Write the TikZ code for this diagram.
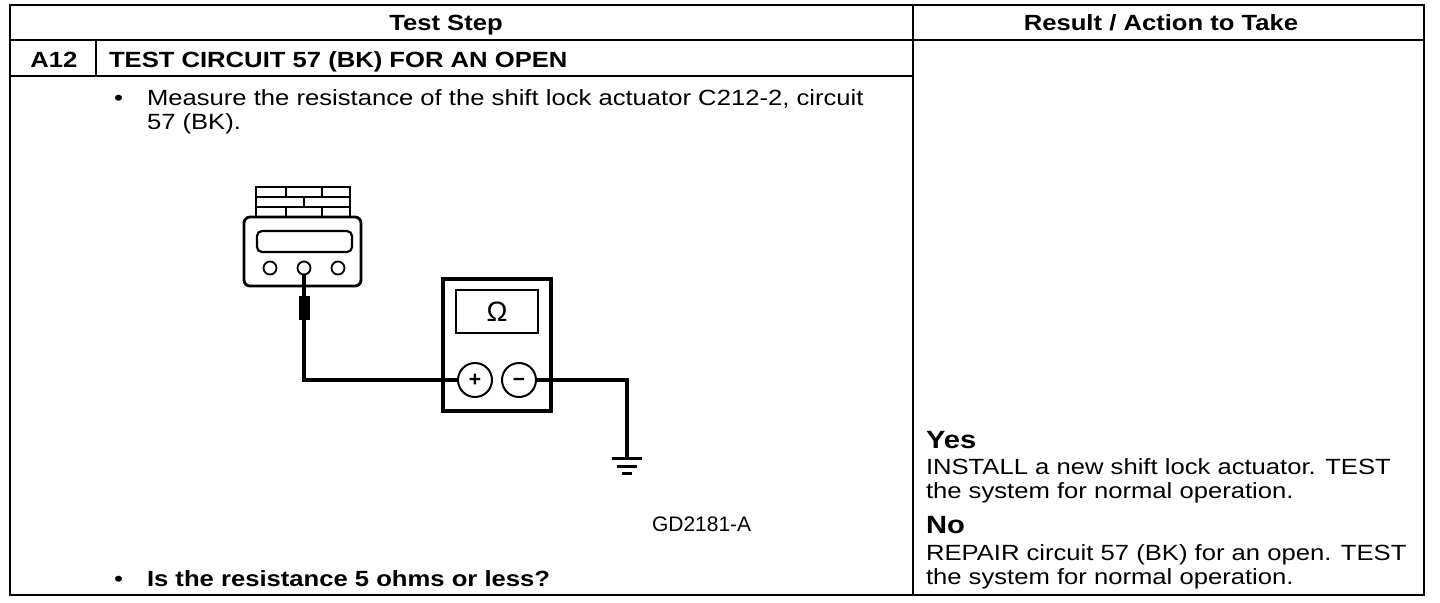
\documentclass[tikz,border=0pt]{standalone}
\usepackage{fontspec}
\setmainfont[FakeStretch=1.165]{Liberation Sans}
\newfontfamily\plainfont{Liberation Sans}
\usepackage{tikz}

\begin{document}
\begin{tikzpicture}[x=0.5pt, y=-0.5pt, outer sep=0pt, inner sep=0pt]

\tikzstyle{txt}=[anchor=base west, font=\fontsize{11}{12}\selectfont]
\tikzstyle{head}=[anchor=base, font=\fontsize{11}{12}\selectfont\bfseries]
\tikzstyle{answer}=[anchor=base west, font=\fontsize{12.5}{14}\selectfont\bfseries]
\tikzstyle{term}=[draw, circle, line width=1pt, minimum size=17pt, text height=6.8pt, text depth=0pt, font=\plainfont\fontsize{10.5}{10}\selectfont\bfseries]
\tikzstyle{pin}=[draw, circle, line width=0.9pt, minimum size=6.5pt]
\tikzstyle{wire}=[line width=1.8pt]

\useasboundingbox (0,0) rectangle (1440,602);

% table
\draw[line width=1.3pt] (10,5) rectangle (1424,595);
\draw[line width=1.3pt] (10,40) -- (1424,40);
\draw[line width=1.3pt] (913,5) -- (913,595);
\draw[line width=1.3pt] (10,76) -- (913,76);
\draw[line width=1.3pt] (96,40) -- (96,76);

\node[head] (hstep) at (446,30) {Test Step};
\node[head] (hres) at (1161,30) {Result / Action to Take};
\node[head] (num) at (54,67) {A12};
\node[head, anchor=base west] (title) at (109,67) {TEST CIRCUIT 57 (BK) FOR AN OPEN};

\node[txt] (b1) at (114,105) {\textbullet};
\node[txt] (t1) at (147,105) {Measure the resistance of the shift lock actuator C212-2, circuit};
\node[txt] (t2) at (147,129) {57 (BK).};
\node[txt] (b2) at (114,586) {\textbullet};
\node[txt, font=\fontsize{11}{12}\selectfont\bfseries] (t3) at (147,586) {Is the resistance 5 ohms or less?};
\node[txt, font=\plainfont\fontsize{10.5}{12}\selectfont] (fig) at (652,531) {GD2181-A};

\node[answer] (yes) at (926,448) {Yes};
\node[txt] (y1) at (926,474) {INSTALL a new shift lock actuator. TEST};
\node[txt] (y2) at (926,498) {the system for normal operation.};
\node[answer] (no) at (926,533) {No};
\node[txt] (n1) at (926,560) {REPAIR circuit 57 (BK) for an open. TEST};
\node[txt] (n2) at (926,584) {the system for normal operation.};

% connector C212
\draw[line width=1.2pt] (256,187) rectangle (350,217);
\draw[line width=0.9pt] (256,197) -- (350,197) (256,207) -- (350,207);
\draw[line width=0.9pt] (286,187) -- (286,197) (322,187) -- (322,197)
  (304,197) -- (304,207) (286,207) -- (286,217) (322,207) -- (322,217);
\draw[line width=1.4pt, rounded corners=3pt] (244,217) rectangle (361,286);
\draw[line width=1.1pt, rounded corners=2.5pt] (257,231) rectangle (352,252);
\node[pin] (pin1) at (270,268) {};
\node[pin] (pin2) at (304,268) {};
\node[pin] (pin3) at (338,268) {};

% probe
\node[fill, minimum width=5.5pt, minimum height=12pt] (probe) at (304,308) {};
\draw[line width=1.6pt] (pin2.south) -- (probe.north);

% meter
\draw[line width=1.8pt] (443,279) rectangle (551,411);
\draw[line width=1.3pt] (456,290) rectangle (538,333);
\node[font=\plainfont\fontsize{14}{14}\selectfont] (ohm) at (497,312) {Ω};
\node[term] (plus) at (475,380) {+};
\node[term] (minus) at (519,380) {−};

% ground
\coordinate (gnd) at (627,458);
\draw[line width=1.5pt] (612,458) -- (642,458) (617,466) -- (637,466) (622,473) -- (632,473);

\draw[wire] (probe.south) |- (plus.west);
\draw[wire] (minus.east) -| (gnd);

\end{tikzpicture}
\end{document}
